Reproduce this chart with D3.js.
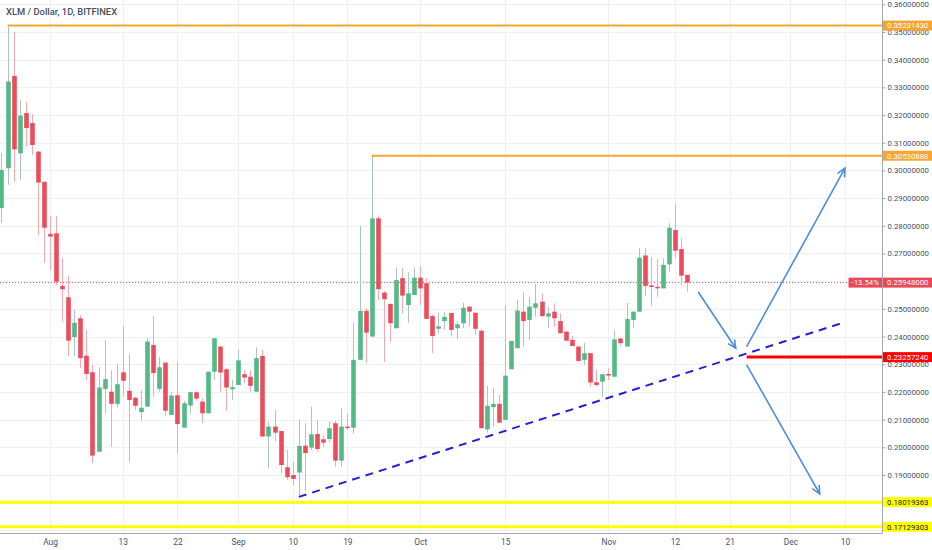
<!DOCTYPE html>
<html><head><meta charset="utf-8">
<script src="https://cdn.jsdelivr.net/npm/d3@7/dist/d3.min.js"></script>
<style>body{margin:0;background:#fff;}svg{display:block;font-family:Roboto,"DejaVu Sans",sans-serif;}</style>
</head><body>
<svg id="c" width="932" height="550"></svg>
<script>
// ---- data ----
const dates = ["2018-07-24","2018-07-25","2018-07-26","2018-07-27","2018-07-28","2018-07-29","2018-07-30","2018-07-31",
"2018-08-01","2018-08-02","2018-08-03","2018-08-04","2018-08-05","2018-08-06","2018-08-07","2018-08-08","2018-08-09","2018-08-10",
"2018-08-11","2018-08-12","2018-08-13","2018-08-14","2018-08-15","2018-08-16","2018-08-17","2018-08-18","2018-08-19","2018-08-20",
"2018-08-21","2018-08-22","2018-08-23","2018-08-24","2018-08-25","2018-08-26","2018-08-27","2018-08-28","2018-08-29","2018-08-30","2018-08-31",
"2018-09-01","2018-09-02","2018-09-03","2018-09-04","2018-09-05","2018-09-06","2018-09-07","2018-09-08","2018-09-09","2018-09-10",
"2018-09-11","2018-09-12","2018-09-13","2018-09-14","2018-09-15","2018-09-16","2018-09-17","2018-09-18","2018-09-19","2018-09-20",
"2018-09-21","2018-09-22","2018-09-23","2018-09-24","2018-09-25","2018-09-26","2018-09-27","2018-09-28","2018-09-29","2018-09-30",
"2018-10-01","2018-10-02","2018-10-03","2018-10-04","2018-10-05","2018-10-06","2018-10-07","2018-10-08","2018-10-09","2018-10-10",
"2018-10-11","2018-10-12","2018-10-13","2018-10-14","2018-10-15","2018-10-16","2018-10-17","2018-10-18","2018-10-19","2018-10-20",
"2018-10-21","2018-10-22","2018-10-23","2018-10-24","2018-10-25","2018-10-26","2018-10-27","2018-10-28","2018-10-29","2018-10-30","2018-10-31",
"2018-11-01","2018-11-02","2018-11-03","2018-11-04","2018-11-05","2018-11-06","2018-11-07","2018-11-08","2018-11-09","2018-11-10",
"2018-11-11","2018-11-12","2018-11-13","2018-11-14"];
const opens = [0.2864,0.3008,0.3341,0.3062,0.3207,0.3171,0.3068,0.2959,
0.2771,0.2773,0.2583,0.2542,0.2398,0.2466,0.2331,0.2271,0.1984,0.2211,
0.2201,0.2157,0.2271,0.2204,0.2179,0.2127,0.2147,0.2370,0.2211,0.2306,
0.2117,0.2188,0.2071,0.2151,0.2199,0.2165,0.2123,0.2273,0.2364,0.2282,0.2210,
0.2225,0.2264,0.2255,0.2201,0.2330,0.2039,0.2075,0.2059,0.1928,0.1900,
0.1909,0.2006,0.1999,0.2048,0.2029,0.2030,0.2087,0.1952,0.2075,0.2071,
0.2316,0.2493,0.2400,0.2827,0.2559,0.2518,0.2430,0.2611,0.2514,0.2550,
0.2613,0.2593,0.2474,0.2428,0.2456,0.2485,0.2430,0.2448,0.2508,0.2486,
0.2421,0.2065,0.2145,0.2157,0.2099,0.2282,0.2358,0.2490,0.2460,0.2504,
0.2526,0.2472,0.2490,0.2456,0.2418,0.2388,0.2364,0.2316,0.2340,0.2235,0.2237,
0.2265,0.2255,0.2393,0.2364,0.2460,0.2490,0.2693,0.2585,0.2580,0.2574,
0.2661,0.2785,0.2716,0.2623];
const highs = [0.3063,0.3523,0.3501,0.3254,0.3248,0.3204,0.3071,0.2959,
0.2836,0.2836,0.2684,0.2619,0.2496,0.2478,0.2424,0.2298,0.2289,0.2388,
0.2279,0.2300,0.2438,0.2337,0.2183,0.2207,0.2394,0.2474,0.2327,0.2306,
0.2201,0.2309,0.2167,0.2200,0.2202,0.2177,0.2273,0.2394,0.2364,0.2286,0.2243,
0.2352,0.2279,0.2279,0.2361,0.2352,0.2093,0.2135,0.2059,0.1991,0.1948,
0.2101,0.2087,0.2147,0.2099,0.2044,0.2093,0.2095,0.2141,0.2123,0.2450,
0.2799,0.2502,0.3053,0.2833,0.2564,0.2518,0.2650,0.2647,0.2632,0.2650,
0.2655,0.2612,0.2480,0.2488,0.2490,0.2486,0.2454,0.2522,0.2510,0.2486,
0.2426,0.2222,0.2213,0.2189,0.2514,0.2384,0.2532,0.2560,0.2542,0.2590,
0.2556,0.2508,0.2520,0.2484,0.2418,0.2402,0.2364,0.2378,0.2340,0.2279,0.2265,
0.2286,0.2424,0.2394,0.2521,0.2490,0.2720,0.2720,0.2686,0.2680,0.2683,
0.2809,0.2881,0.2755,0.2623];
const lows = [0.2810,0.2948,0.2959,0.2966,0.3086,0.3056,0.2767,0.2666,
0.2641,0.2586,0.2454,0.2330,0.2330,0.2286,0.2243,0.1943,0.1983,0.2123,
0.2002,0.2145,0.2183,0.1946,0.2135,0.2096,0.2147,0.2183,0.2201,0.2114,
0.2117,0.1979,0.2071,0.2123,0.2169,0.2087,0.2123,0.2243,0.2201,0.2132,0.2171,
0.2225,0.2231,0.2201,0.2201,0.2039,0.1925,0.2021,0.1906,0.1882,0.1864,
0.1821,0.1844,0.1991,0.1984,0.2002,0.2017,0.1930,0.1930,0.2063,0.2051,
0.2316,0.2304,0.2400,0.2532,0.2309,0.2382,0.2430,0.2484,0.2450,0.2550,
0.2514,0.2464,0.2340,0.2412,0.2424,0.2400,0.2390,0.2430,0.2436,0.2406,
0.2069,0.2053,0.2075,0.2089,0.2099,0.2282,0.2358,0.2364,0.2388,0.2472,
0.2470,0.2430,0.2436,0.2412,0.2385,0.2366,0.2309,0.2298,0.2219,0.2219,0.2183,
0.2243,0.2255,0.2364,0.2364,0.2430,0.2490,0.2547,0.2511,0.2544,0.2574,
0.2634,0.2683,0.2586,0.2562];
const closes = [0.3002,0.3321,0.3076,0.3198,0.3153,0.3092,0.2956,0.2793,
0.2761,0.2598,0.2571,0.2385,0.2450,0.2322,0.2265,0.1970,0.2216,0.2246,
0.2157,0.2228,0.2240,0.2171,0.2150,0.2143,0.2382,0.2268,0.2289,0.2132,
0.2187,0.2084,0.2159,0.2199,0.2176,0.2123,0.2273,0.2394,0.2270,0.2216,0.2217,
0.2314,0.2252,0.2222,0.2322,0.2039,0.2075,0.2053,0.1936,0.1892,0.1886,
0.2005,0.1979,0.2047,0.1994,0.2017,0.2069,0.1952,0.2075,0.2071,0.2316,
0.2493,0.2414,0.2827,0.2571,0.2535,0.2448,0.2604,0.2548,0.2556,0.2613,
0.2574,0.2464,0.2402,0.2437,0.2471,0.2424,0.2444,0.2504,0.2490,0.2428,
0.2069,0.2150,0.2157,0.2089,0.2259,0.2384,0.2494,0.2456,0.2508,0.2520,
0.2474,0.2484,0.2466,0.2412,0.2385,0.2366,0.2312,0.2340,0.2234,0.2225,0.2264,
0.2259,0.2390,0.2376,0.2463,0.2490,0.2685,0.2583,0.2579,0.2574,0.2659,
0.2793,0.2710,0.2620,0.25948];

const priceTicks = [0.18,0.19,0.20,0.21,0.22,0.23,0.24,0.25,0.26,0.27,0.28,0.29,0.30,0.31,0.32,0.33,0.34,0.35,0.36];
const dateTicks = ["2018-08-01","2018-08-13","2018-08-22","2018-09-01","2018-09-10","2018-09-19","2018-10-01","2018-10-15","2018-11-01","2018-11-12","2018-11-21","2018-12-01","2018-12-10"];
const dateTickLabels = ["Aug","13","22","Sep","10","19","Oct","15","Nov","12","21","Dec","10"];

// horizontal levels
const levelDates = ["2018-07-25","2018-09-23","2018-11-23T19:00","2018-07-10","2018-07-10"];
const levelPrices = [0.35231430,0.30530888,0.23257240,0.18019363,0.17129303];
const levelLabels = ["0.35231430","0.30530888","0.23257240","0.18019363","0.17129303"];
const levelKinds = ["orange","orange","red","yellow","yellow"];

const trendDates = ["2018-09-11","2018-12-09T16:00"];
const trendPrices = [0.1821,0.2450];

const arrowStartDates = ["2018-11-15T19:00","2018-11-23T19:00","2018-11-23T19:00"];
const arrowStartPrices = [0.2562,0.2364,0.2298];
const arrowEndDates = ["2018-11-22","2018-12-10","2018-12-05T20:00"];
const arrowEndPrices = [0.2358,0.3008,0.1832];

const lastPrice = 0.25948;
const lastPriceLabel = "0.25948000";
const changeLabel = "-13.54%";
const title = "XLM / Dollar, 1D, BITFINEX";

// ---- chart ----
const W = 932, H = 550, plotR = 882.5, plotB = 533;
const parse = s => new Date(s.length > 10 ? s + ":00Z" : s + "T00:00:00Z");
const svg = d3.select("#c");
const x = d3.scaleUtc().domain([parse("2018-08-01"), parse("2018-12-10")]).range([50, 845]);
const y = d3.scaleLinear().domain([0.19, 0.36]).range([475, 4.3]);

const candles = dates.map((d,i)=>({d:parse(d),o:opens[i],h:highs[i],l:lows[i],c:closes[i]}));

svg.append("defs").append("clipPath").attr("id","pc").append("rect")
  .attr("x",0).attr("y",0).attr("width",plotR).attr("height",plotB);
const plot = svg.append("g").attr("clip-path","url(#pc)");

// grid
plot.append("g").selectAll("line").data([0.17].concat(priceTicks)).join("line")
  .attr("x1",0).attr("x2",plotR).attr("y1",d=>Math.round(y(d))+0.5).attr("y2",d=>Math.round(y(d))+0.5)
  .attr("stroke","#eef0f4").attr("stroke-width",1);
plot.append("g").selectAll("line").data(dateTicks).join("line")
  .attr("x1",d=>Math.round(x(parse(d)))+0.5).attr("x2",d=>Math.round(x(parse(d)))+0.5).attr("y1",0).attr("y2",plotB)
  .attr("stroke","#eef0f4").attr("stroke-width",1);

// last price dotted line
plot.append("line").attr("x1",0).attr("x2",848).attr("y1",y(lastPrice)).attr("y2",y(lastPrice))
  .attr("stroke","#ea4d5c").attr("stroke-width",1).attr("stroke-dasharray","1,2");

// candles
const cw = 4.6;
const cg = plot.append("g");
cg.selectAll("line").data(candles).join("line")
  .attr("x1",d=>Math.round(x(d.d))+0.5).attr("x2",d=>Math.round(x(d.d))+0.5)
  .attr("y1",d=>y(d.h)).attr("y2",d=>y(d.l))
  .attr("stroke",d=>d.c>=d.o?"#a9c7c0":"#f4a9b1").attr("stroke-width",1);
cg.selectAll("rect").data(candles).join("rect")
  .attr("x",d=>Math.round(x(d.d))+0.5-cw/2).attr("width",cw)
  .attr("y",d=>y(Math.max(d.o,d.c)))
  .attr("height",d=>Math.max(1.5,Math.abs(y(d.o)-y(d.c))))
  .attr("fill",d=>d.c>=d.o?"#53b987":"#eb4d5c");

// levels
const levelColor = {orange:"#f7a531",red:"#ff0000",yellow:"#ffff00"};
const levelWidth = {orange:2,red:3,yellow:3};
levelPrices.forEach((p,i)=>{
  plot.append("line").attr("x1",Math.max(0,x(parse(levelDates[i])))).attr("x2",plotR)
    .attr("y1",y(p)).attr("y2",y(p))
    .attr("stroke",levelColor[levelKinds[i]]).attr("stroke-width",levelWidth[levelKinds[i]]);
});

// trend line
plot.append("line")
  .attr("x1",x(parse(trendDates[0]))).attr("y1",y(trendPrices[0]))
  .attr("x2",x(parse(trendDates[1]))).attr("y2",y(trendPrices[1]))
  .attr("stroke","#2323d0").attr("stroke-width",2).attr("stroke-dasharray","8,6");

// arrows
const ac = "#4a8edb";
arrowStartDates.forEach((sd,i)=>{
  const x1=x(parse(sd)), y1=y(arrowStartPrices[i]), x2=x(parse(arrowEndDates[i])), y2=y(arrowEndPrices[i]);
  plot.append("line").attr("x1",x1).attr("y1",y1).attr("x2",x2).attr("y2",y2)
    .attr("stroke",ac).attr("stroke-width",1.6);
  const ang = Math.atan2(y2-y1,x2-x1), L=9, a=0.45;
  const p1=[x2-L*Math.cos(ang-a), y2-L*Math.sin(ang-a)], p2=[x2-L*Math.cos(ang+a), y2-L*Math.sin(ang+a)];
  plot.append("path").attr("d",`M${p1[0]},${p1[1]}L${x2},${y2}L${p2[0]},${p2[1]}`)
    .attr("fill","none").attr("stroke",ac).attr("stroke-width",1.6);
});

// axes lines
svg.append("line").attr("x1",plotR).attr("x2",plotR).attr("y1",0).attr("y2",plotB).attr("stroke","#a3a6ad").attr("stroke-width",1);
svg.append("line").attr("x1",0).attr("x2",plotR).attr("y1",plotB+0.5).attr("y2",plotB+0.5).attr("stroke","#a3a6ad").attr("stroke-width",1);

const fontFam = "Roboto,'DejaVu Sans',sans-serif";
// y axis
const yAxis = d3.axisRight(y).tickValues(priceTicks).tickSize(3).tickPadding(2).tickFormat(d3.format(".8f"));
const ya = svg.append("g").attr("transform",`translate(${plotR},0)`).call(yAxis);
ya.select(".domain").remove();
ya.selectAll("text").attr("fill","#4c525e").attr("font-size","7.8px").attr("font-family",fontFam);
ya.selectAll("line").attr("stroke","#a3a6ad");

// x axis
const xAxis = d3.axisBottom(x).tickValues(dateTicks.map(parse)).tickSize(0).tickPadding(6)
  .tickFormat((d,i)=>dateTickLabels[i]);
const xa = svg.append("g").attr("transform",`translate(0,${plotB})`).call(xAxis);
xa.select(".domain").remove();
xa.selectAll("text").attr("fill","#4c525e").attr("font-size","8.4px").attr("font-family",fontFam);

// axis price labels
function tag(x0,w,p,bg,fg,txt){
  const yy=y(p);
  svg.append("rect").attr("x",x0).attr("y",yy-5).attr("width",w).attr("height",10).attr("fill",bg);
  svg.append("text").attr("x",x0+w/2).attr("y",yy).attr("dy","0.36em").attr("text-anchor","middle")
    .attr("fill",fg).attr("font-size","7.8px").attr("font-family",fontFam).text(txt);
}
const tagBg = {orange:"#f7a531",red:"#ff0000",yellow:"#ffff00"};
const tagFg = {orange:"#ffffff",red:"#ffffff",yellow:"#131722"};
levelPrices.forEach((p,i)=>tag(plotR+0.5,W-plotR,p,tagBg[levelKinds[i]],tagFg[levelKinds[i]],levelLabels[i]));
tag(plotR+0.5,W-plotR,lastPrice,"#e84a5a","#ffffff",lastPriceLabel);
tag(848.5,plotR-849,lastPrice,"#e84a5a","#ffffff",changeLabel);

// title
svg.append("text").attr("x",6).attr("y",15).attr("fill","#4a4f5a").attr("font-size","9.4px").attr("font-weight",500)
  .attr("font-family",fontFam).text(title);
</script>
</body></html>
